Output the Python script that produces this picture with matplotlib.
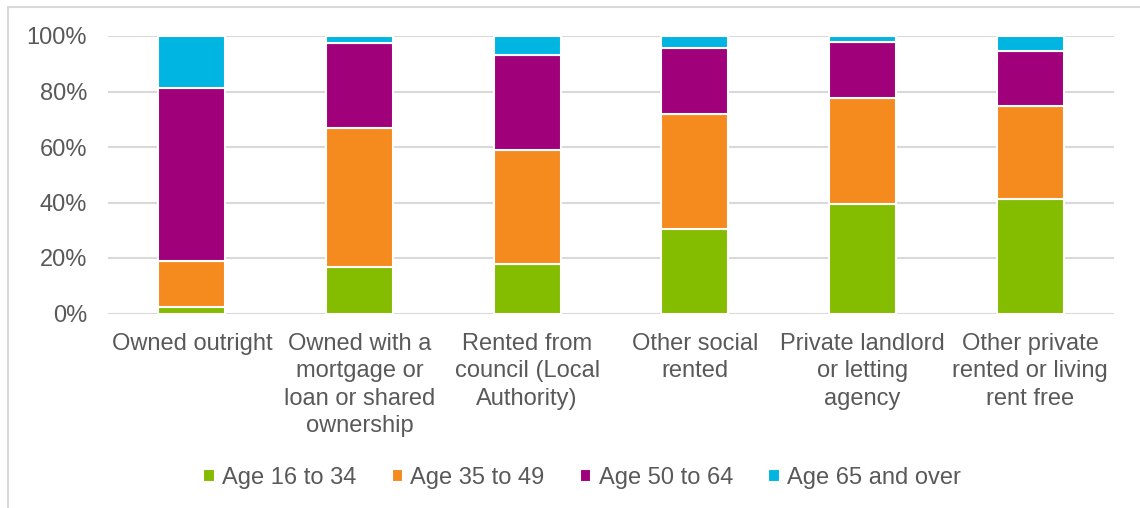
import matplotlib
matplotlib.use("Agg")
import matplotlib.pyplot as plt
from matplotlib.patches import Rectangle
import numpy as np

plt.rcParams['font.family'] = ['Liberation Sans', 'DejaVu Sans']

categories = ["Owned outright",
              "Owned with a\nmortgage or\nloan or shared\nownership",
              "Rented from\ncouncil (Local\nAuthority)",
              "Other social\nrented",
              "Private landlord\nor letting\nagency",
              "Other private\nrented or living\nrent free"]
series_names = ["Age 16 to 34", "Age 35 to 49", "Age 50 to 64", "Age 65 and over"]
age_16_34 = [2.3, 16.8, 17.7, 30.6, 39.5, 41.2]
age_35_49 = [16.7, 50.2, 41.2, 41.3, 38.1, 33.7]
age_50_64 = [62.3, 30.6, 34.2, 23.7, 20.4, 19.7]
age_65_over = [18.7, 2.4, 6.9, 4.4, 2.0, 5.4]
colors = ["#84BD00", "#F58B1F", "#A0007A", "#00B5E2"]
yticks = [0, 20, 40, 60, 80, 100]
ytick_labels = ["0%", "20%", "40%", "60%", "80%", "100%"]

W, H = 1140, 508
FS = 17
fig = plt.figure(figsize=(W / 100, H / 100), dpi=100)
ax = fig.add_axes([108 / W, 1 - 313.5 / H, (1114 - 108) / W, (313.5 - 36) / H])

x = np.arange(len(categories))
bottom = np.zeros(len(categories))
handles = []
for vals, c, name in zip([age_16_34, age_35_49, age_50_64, age_65_over], colors, series_names):
    vals = np.array(vals)
    b = ax.bar(x, vals, bottom=bottom, width=0.4, color=c, edgecolor="white",
               linewidth=1.5, label=name, zorder=3)
    handles.append(b)
    bottom += vals

ax.set_xlim(-0.5, len(categories) - 0.5)
ax.set_ylim(0, 100)
ax.set_yticks(yticks)
ax.set_yticklabels(ytick_labels)
ax.set_xticks(x)
ax.set_xticklabels(categories, linespacing=1.32)
ax.tick_params(axis='both', length=0, labelsize=FS, colors="#595959")
ax.tick_params(axis='y', pad=15)
ax.tick_params(axis='x', pad=14)
ax.grid(axis='y', color="#D9D9D9", linewidth=1.5, zorder=0)
for s in ax.spines.values():
    s.set_visible(False)

leg = fig.legend(handles=handles, labels=series_names, loc='center',
                 bbox_to_anchor=(582 / W, 1 - 478 / H), ncol=4, frameon=False,
                 fontsize=FS, handlelength=0.5, handleheight=0.5,
                 handletextpad=0.3, columnspacing=1.48, labelcolor="#595959")

fig.patches.append(Rectangle((8 / W, -0.1), 1.2, 1 - 7 / H + 0.1, transform=fig.transFigure,
                             fill=False, edgecolor="#D9D9D9", linewidth=1.5, zorder=0))

fig.savefig("out.png", dpi=100, facecolor="white")
